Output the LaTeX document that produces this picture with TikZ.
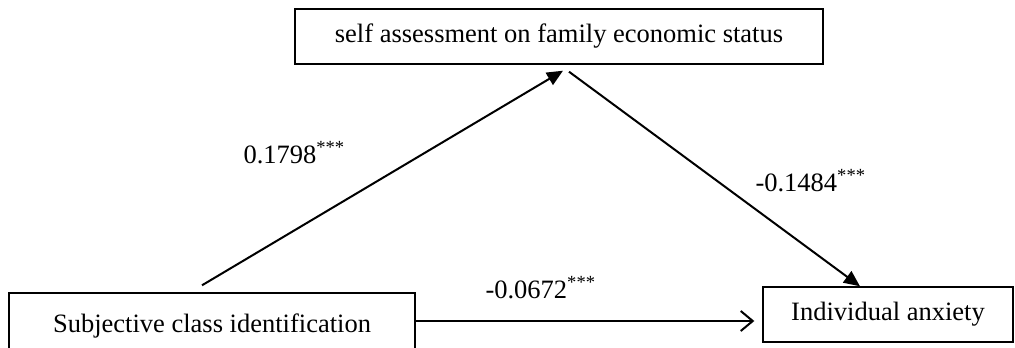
\documentclass[tikz,border=0pt]{standalone}
\usepackage{fontspec}
\setmainfont{Liberation Serif}
\usetikzlibrary{arrows.meta}

\begin{document}
\begin{tikzpicture}[x=1pt,y=-1pt,font=\fontsize{26.5}{30}\selectfont,
	box/.style={draw,line width=1.4pt,inner sep=0pt,minimum height=55pt},
	link/.style={line width=2pt,-{Triangle[length=16pt,width=14pt]}}]
	\useasboundingbox (0,0) rectangle (1015,348);
	% boxes
	\node[box,minimum width=528pt] (ses) at (559,36.5) {self assessment on family economic status};
	\node[box,minimum width=406pt,minimum height=66pt] (sci) at (212,326) {Subjective class identification};
	\node[box,minimum width=250pt] (anx) at (888,314.5) {Individual anxiety};
	% paths
	\draw[link] ([xshift=-10pt,yshift=7pt]sci.north) -- ([xshift=4pt,yshift=-6pt]ses.south);
	\draw[link] ([xshift=10pt,yshift=-7pt]ses.south) -- ([xshift=-28pt]anx.north);
	\draw[line width=2pt,-{Straight Barb[length=12pt,width=20pt]}] ([yshift=5pt]sci.east) -- ([xshift=-8pt,yshift=-6.5pt]anx.west);
	% coefficients
	\node[anchor=base west] (ca) at (240,163) {0.1798\textsuperscript{***}};
	\node[anchor=base west] (cb) at (752,191) {-0.1484\textsuperscript{***}};
	\node[anchor=base west] (cc) at (482,298) {-0.0672\textsuperscript{***}};
\end{tikzpicture}
\end{document}
